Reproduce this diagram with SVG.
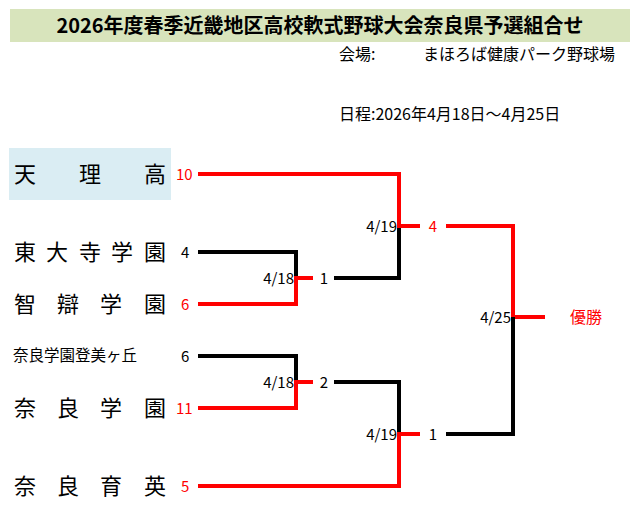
<svg xmlns="http://www.w3.org/2000/svg" width="640" height="512" viewBox="0 0 640 512">
<style>
text{font-family:"Noto Sans CJK JP","Liberation Sans",sans-serif;fill:#000}
.n{font-size:22px}
.s{font-size:15px}
.h{font-size:16px}
.r{fill:#f00}
.b{stroke:#000;stroke-width:4;fill:none}
.rl{stroke:#f00;stroke-width:4;fill:none}
</style>
<rect x="10" y="9" width="620" height="33" fill="#d8e4bc"/>
<text x="320" y="33" font-size="20" font-weight="bold" text-anchor="middle">2026年度春季近畿地区高校軟式野球大会奈良県予選組合せ</text>
<text x="339" y="60" class="h">会場:</text>
<text x="423" y="60" class="h">まほろば健康パーク野球場</text>
<text x="339" y="120" class="h">日程:2026年4月18日～4月25日</text>
<g id="n1"><rect x="9" y="148" width="162" height="52" fill="#daedf3"/>
<text class="n" y="182"><tspan x="14">天</tspan><tspan x="79">理</tspan><tspan x="144">高</tspan></text>
<text class="s r" x="176" y="180">10</text></g>
<g id="n2"><text class="n" y="260"><tspan x="14">東</tspan><tspan x="46">大</tspan><tspan x="79">寺</tspan><tspan x="111">学</tspan><tspan x="144">園</tspan></text>
<text class="s" x="181" y="258">4</text></g>
<g id="n3"><text class="n" y="312"><tspan x="14">智</tspan><tspan x="57">辯</tspan><tspan x="100">学</tspan><tspan x="144">園</tspan></text>
<text class="s r" x="181" y="310">6</text></g>
<g id="n4"><text x="13" y="361" font-size="15.5">奈良学園登美ヶ丘</text>
<text class="s" x="181" y="362">6</text></g>
<g id="n5"><text class="n" y="416"><tspan x="14">奈</tspan><tspan x="57">良</tspan><tspan x="100">学</tspan><tspan x="144">園</tspan></text>
<text class="s r" x="176" y="414">11</text></g>
<g id="n6"><text class="n" y="494"><tspan x="14">奈</tspan><tspan x="57">良</tspan><tspan x="100">育</tspan><tspan x="144">英</tspan></text>
<text class="s r" x="181" y="492">5</text></g>
<g id="connectors">
<path class="b" d="M198 252H296V278"/>
<path class="rl" d="M198 304H296V278H313"/>
<path class="b" d="M334 278H399V226"/>
<path class="b" d="M198 356H296V382"/>
<path class="rl" d="M198 408H296V382H313"/>
<path class="b" d="M334 382H399V434"/>
<path class="rl" d="M198 174H399V226H420"/>
<path class="rl" d="M198 486H399V434H420"/>
<path class="rl" d="M446 226H513V317H545"/>
<path class="b" d="M446 434H513V317"/>
</g>
<g>
<text class="s" x="294" y="284" text-anchor="end">4/18</text>
<text class="s" x="324" y="284" text-anchor="middle">1</text>
<text class="s" x="294" y="388" text-anchor="end">4/18</text>
<text class="s" x="324" y="388" text-anchor="middle">2</text>
<text class="s" x="397" y="232" text-anchor="end">4/19</text>
<text class="s r" x="433" y="232" text-anchor="middle">4</text>
<text class="s" x="397" y="440" text-anchor="end">4/19</text>
<text class="s" x="433" y="440" text-anchor="middle">1</text>
<text class="s" x="511" y="323" text-anchor="end">4/25</text>
<text class="r" x="570" y="323" font-size="16">優勝</text>
</g>
</svg>
